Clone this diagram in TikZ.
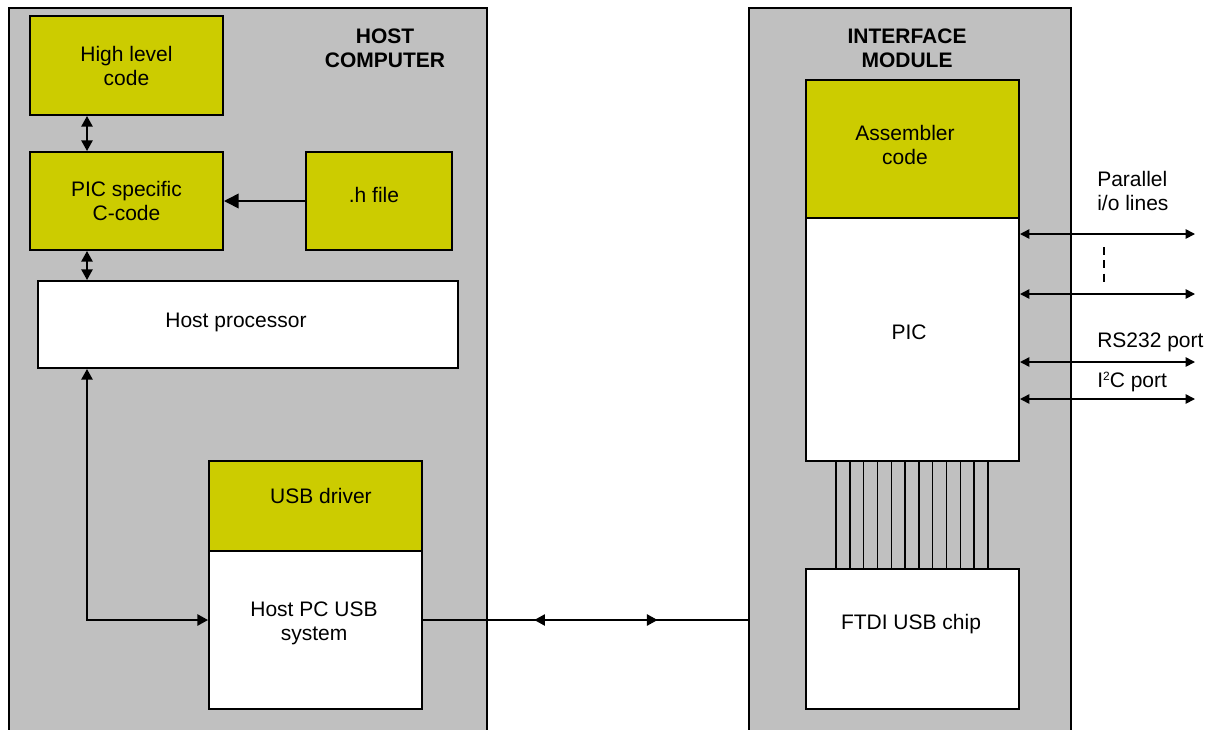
\documentclass[tikz,border=0pt]{standalone}
\usepackage{fontspec}
\setmainfont{Liberation Sans}
\usetikzlibrary{arrows.meta,decorations.markings}
\definecolor{panelgray}{HTML}{C0C0C0}
\definecolor{codeyellow}{HTML}{CCCC00}
\begin{document}
\begin{tikzpicture}[x=0.75pt,y=-0.75pt,
  font=\fontsize{15.75}{18}\selectfont,
  box/.style 2 args={draw=black, line width=1.5pt, minimum width=#1*0.75pt, minimum height=#2*0.75pt, inner sep=0pt, anchor=north west, align=center},
  panel/.style={fill=panelgray},
  code/.style={fill=codeyellow},
  plain/.style={fill=white},
  txt/.style={align=center, inner sep=0pt},
  title/.style={align=center, inner sep=0pt, font=\fontsize{15.75}{18}\selectfont\bfseries},
  conn/.style={line width=1.2pt},
  dbl/.style={conn, {Triangle[length=8pt,width=8.5pt]}-{Triangle[length=8pt,width=8.5pt]}},
  port/.style={conn, {Triangle[length=7pt,width=7pt]}-{Triangle[length=7pt,width=7pt]}},
  big/.style={conn, -{Triangle[length=11pt,width=11pt]}},
  bus/.style={line width=1.1pt},
]
\useasboundingbox (0,0) rectangle (1212,729);

% panels
\node[box={478}{740}, panel] (host) at (8,7) {};
\node[box={322}{740}, panel] (iface) at (748,7) {};
\node[title] (hosttitle) at (385,48) {HOST\\COMPUTER};
\node[title] (ifacetitle) at (907,48) {INTERFACE\\MODULE};

% host computer blocks
\node[box={193}{99}, code] (hlc) at (29,15) {High level\\code};
\node[box={193}{98}, code] (picc) at (29,151) {PIC specific\\C-code};
\node[box={146}{98}, code] (hfile) at (305,151) {};
\node[txt] (hfiletext) at (374,195) {.h file};
\node[box={420}{87}, plain] (hp) at (37,280) {};
\node[txt] (hptext) at (236,322) {Host processor};
\node[box={213}{90}, code] (usbdrv) at (208,460) {};
\node[txt] (usbdrvtext) at (321,496) {USB driver};
\node[box={213}{158}, plain] (usbsys) at (208,550) {};
\node[txt] (usbsystext) at (314,623) {Host PC USB\\system};

% interface module blocks
\node[box={213}{138}, code] (asm) at (805,79) {};
\node[txt] (asmtext) at (905,145) {Assembler\\code};
\node[box={213}{243}, plain] (pic) at (805,217) {};
\node[txt] (pictext) at (909,332) {PIC};
\node[box={213}{140}, plain] (ftdi) at (805,568) {};
\node[txt] (ftditext) at (911,624) {FTDI USB chip};

% helper coordinates
\coordinate (cx) at (87,0);
\coordinate (busy) at (0,620);

% host connectors
\draw[dbl] (hlc.south -| cx) -- (picc.north -| cx);
\draw[dbl] (picc.south -| cx) -- (hp.north -| cx);
\draw[big] (hfile.west) -- (picc.east);
\draw[dbl] (hp.south -| cx) |- (usbsys.west |- busy);

% USB cable
\draw[conn, postaction={decorate}, decoration={markings,
    mark=at position 0.3425 with {\arrowreversed{Triangle[length=8pt,width=8.5pt]}},
    mark=at position 0.7217 with {\arrow{Triangle[length=8pt,width=8.5pt]}}}]
  (usbsys.east |- busy) -- (iface.west |- busy);

% bus between PIC and FTDI
\foreach \i in {0,...,11}{
  \coordinate (bx\i) at (836+\i*13.82,0);
  \draw[bus] (pic.south -| bx\i) -- (ftdi.north -| bx\i);
}

% ports
\coordinate (p1) at (1195,234);
\coordinate (p2) at (1195,294);
\coordinate (p3) at (1195,362);
\coordinate (p4) at (1195,399);
\draw[port] (pic.east |- p1) -- (p1);
\draw[port] (pic.east |- p2) -- (p2);
\draw[port] (pic.east |- p3) -- (p3);
\draw[port] (pic.east |- p4) -- (p4);
\coordinate (d1) at (1104,247);
\coordinate (d2) at (1104,282);
\draw[line width=1.2pt, dash pattern=on 6pt off 4pt] (d1) -- (d2);

\node[txt, anchor=west, align=left] (partext) at (1097,191) {Parallel\\i/o lines};
\node[txt, anchor=west] (rstext) at (1097,342) {RS232 port};
\node[txt, anchor=west] (i2ctext) at (1097,382) {I{\fontsize{9}{9}\selectfont\raisebox{5pt}{2}}C port};
\end{tikzpicture}
\end{document}
